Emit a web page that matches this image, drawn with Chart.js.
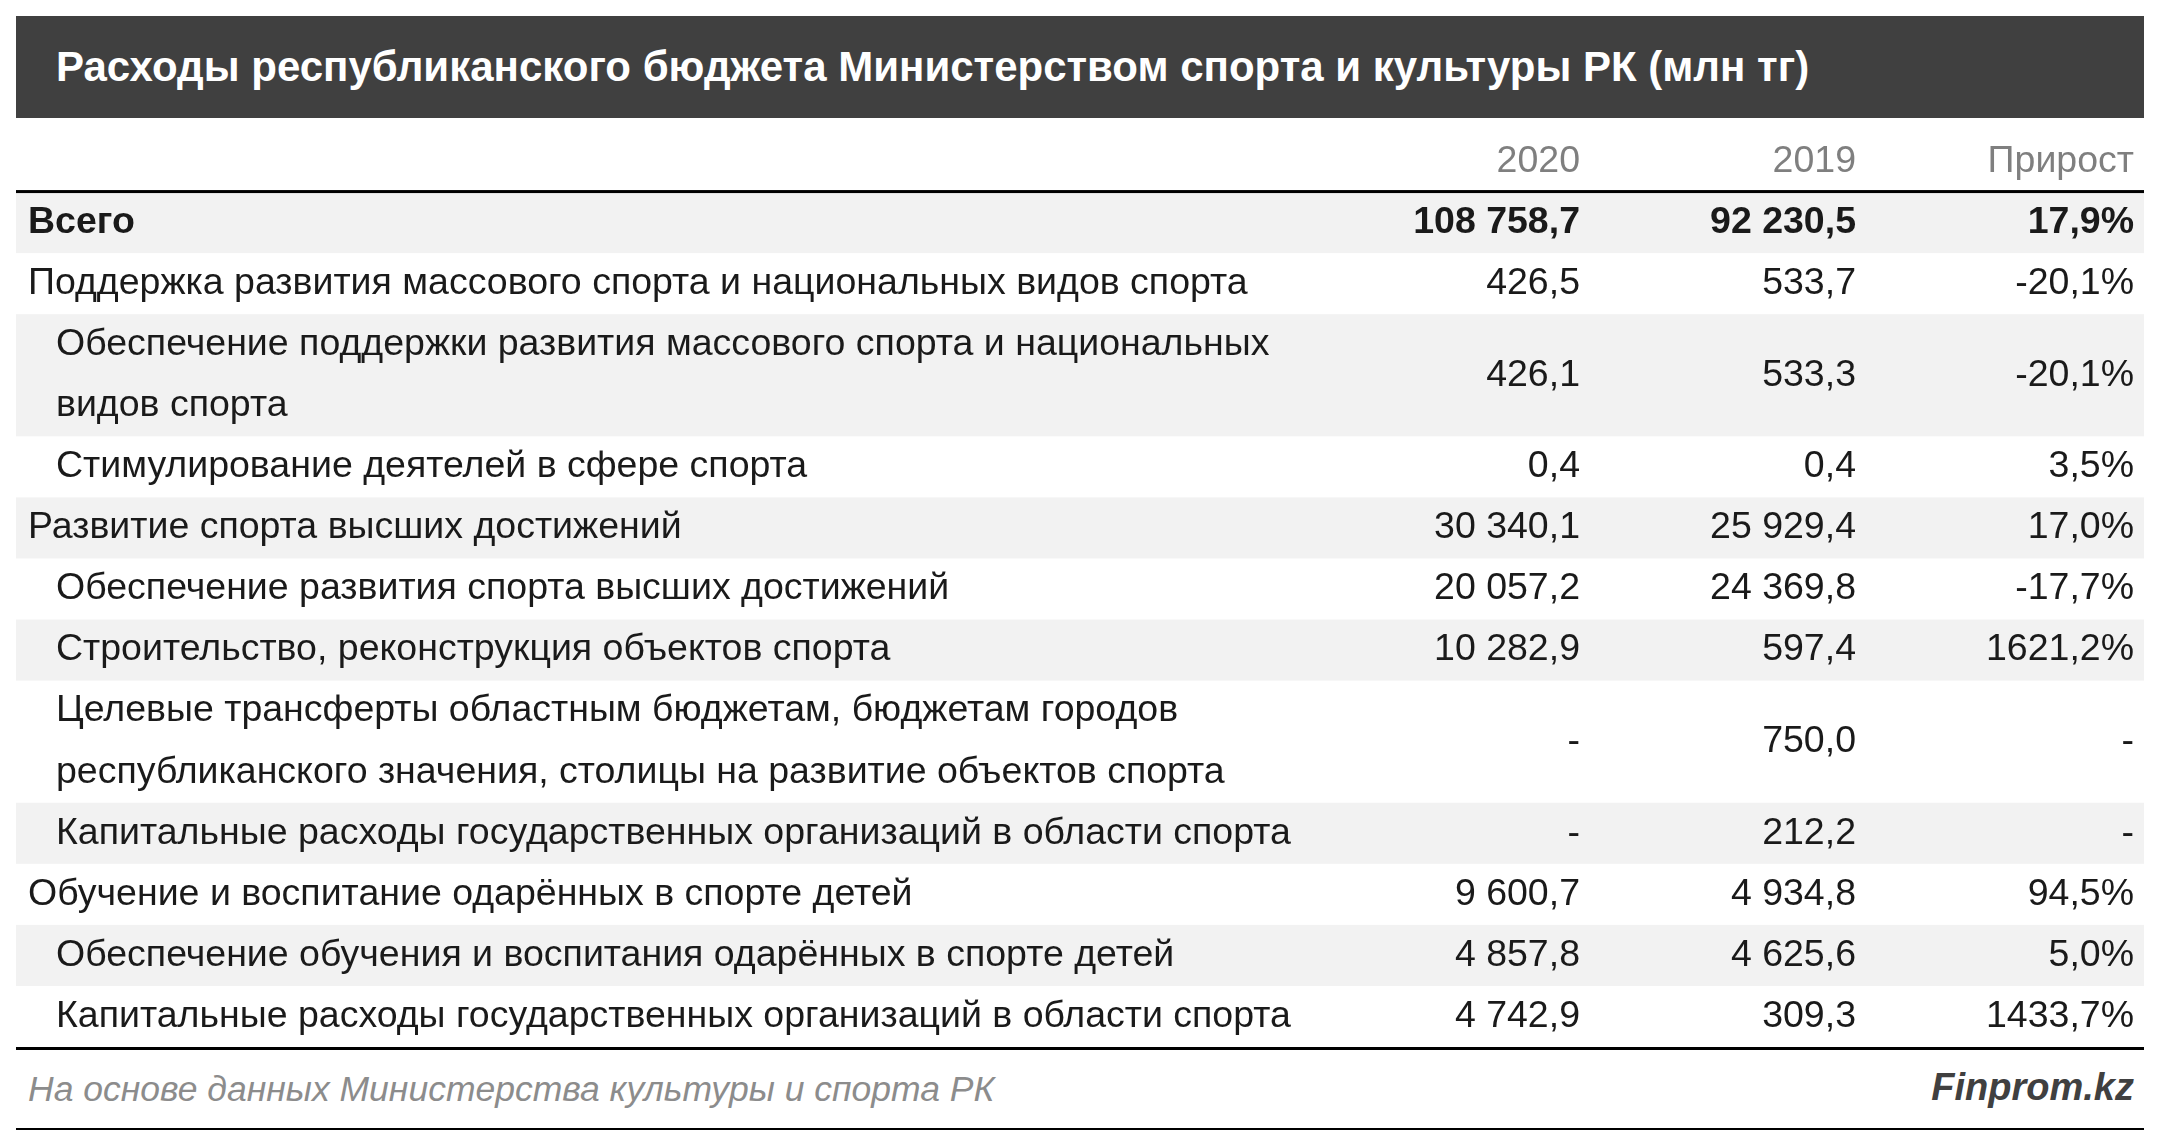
<!DOCTYPE html>
<html>
<head>
<meta charset="utf-8">
<script src="https://cdn.jsdelivr.net/npm/chart.js@4/dist/chart.umd.min.js"></script>
<style>
  body { margin: 0; width: 2160px; height: 1139px; background: #fff; font-family: "Liberation Sans", sans-serif; position: relative; overflow: hidden; }
  #title { position: absolute; left: 16px; top: 16px; width: 2128px; height: 102px; background: #404040; color: #fff;
           font-weight: bold; font-size: 42px; line-height: 102px; padding-left: 40px; box-sizing: border-box; }
  #wrap { position: absolute; left: 16px; top: 131px; width: 2128px; height: 916px; }
  #foot { position: absolute; left: 16px; top: 1047px; width: 2128px; height: 83px; border-top: 3px solid #000; border-bottom: 2px solid #000; box-sizing: border-box; }
  #src { position: absolute; left: 12px; top: 19px; font-style: italic; color: #8c8c8c; font-size: 35.5px; }
  #brand { position: absolute; right: 10px; top: 16px; font-style: italic; font-weight: bold; color: #404040; font-size: 38px; }
</style>
</head>
<body>
<div id="title">Расходы республиканского бюджета Министерством спорта и культуры РК (млн тг)</div>
<div id="wrap"><canvas id="chart-table"></canvas></div>
<div id="foot"><span id="src">На основе данных Министерства культуры и спорта РК</span><span id="brand">Finprom.kz</span></div>
<script>
const columns = ["2020", "2019", "Прирост"];

const rowLabels = [
    ["Всего"],
    ["Поддержка развития массового спорта и национальных видов спорта"],
    ["Обеспечение поддержки развития массового спорта и национальных", "видов спорта"],
    ["Стимулирование деятелей в сфере спорта"],
    ["Развитие спорта высших достижений"],
    ["Обеспечение развития спорта высших достижений"],
    ["Строительство, реконструкция объектов спорта"],
    ["Целевые трансферты областным бюджетам, бюджетам городов", "республиканского значения, столицы на развитие объектов спорта"],
    ["Капитальные расходы государственных организаций в области спорта"],
    ["Обучение и воспитание одарённых в спорте детей"],
    ["Обеспечение обучения и воспитания одарённых в спорте детей"],
    ["Капитальные расходы государственных организаций в области спорта"]
];
const rowLevel = [0, 0, 1, 1, 0, 1, 1, 1, 1, 0, 1, 1];

const values2020 = ["108 758,7", "426,5", "426,1", "0,4", "30 340,1", "20 057,2", "10 282,9", "-", "-", "9 600,7", "4 857,8", "4 742,9"];
const values2019 = ["92 230,5", "533,7", "533,3", "0,4", "25 929,4", "24 369,8", "597,4", "750,0", "212,2", "4 934,8", "4 625,6", "309,3"];
const growth = ["17,9%", "-20,1%", "-20,1%", "3,5%", "17,0%", "-17,7%", "1621,2%", "-", "-", "94,5%", "5,0%", "1433,7%"];

const totalUnits = 1 + rowLabels.reduce((s, r) => s + r.length, 0);

const tablePlugin = {
    id: "tablePlugin",
    afterDraw(chart) {
        const ctx = chart.ctx;
        const y = chart.scales.y;
        const area = chart.chartArea;
        const colX = [1564, 1840, 2118];
        const font = "37.5px 'Liberation Sans', sans-serif";
        ctx.save();
        ctx.textBaseline = "middle";

        // header
        ctx.font = font;
        ctx.fillStyle = "#7f7f7f";
        ctx.textAlign = "right";
        const hy = (y.getPixelForValue(0) + y.getPixelForValue(1)) / 2;
        columns.forEach((c, i) => ctx.fillText(c, colX[i], hy));

        let u = 1;
        rowLabels.forEach((lines, i) => {
            const top = y.getPixelForValue(u);
            const bottom = y.getPixelForValue(u + lines.length);
            if (i % 2 === 0) {
                ctx.fillStyle = "#f2f2f2";
                ctx.fillRect(area.left, top, area.right - area.left, bottom - top);
            }
            const bold = i === 0;
            ctx.font = (bold ? "bold " : "") + font;
            ctx.fillStyle = "#1a1a1a";
            ctx.textAlign = "left";
            const lh = (bottom - top) / lines.length;
            lines.forEach((t, k) => {
                ctx.fillText(t, rowLevel[i] ? 40 : 12, top + lh * (k + 0.5));
            });
            ctx.textAlign = "right";
            const mid = (top + bottom) / 2;
            ctx.fillText(values2020[i], colX[0], mid);
            ctx.fillText(values2019[i], colX[1], mid);
            ctx.fillText(growth[i], colX[2], mid);
            u += lines.length;
        });

        // header rule
        ctx.fillStyle = "#000";
        ctx.fillRect(area.left, y.getPixelForValue(1) - 2, area.right - area.left, 3);
        ctx.restore();
    }
};

new Chart(document.getElementById("chart-table"), {
    type: "scatter",
    data: { datasets: [{ data: [] }] },
    options: {
        responsive: true,
        maintainAspectRatio: false,
        animation: false,
        layout: { padding: 0 },
        plugins: { legend: { display: false }, tooltip: { enabled: false } },
        scales: {
            x: { display: false, min: 0, max: 1 },
            y: { display: false, min: 0, max: totalUnits, reverse: true }
        }
    },
    plugins: [tablePlugin]
});
</script>
</body>
</html>
